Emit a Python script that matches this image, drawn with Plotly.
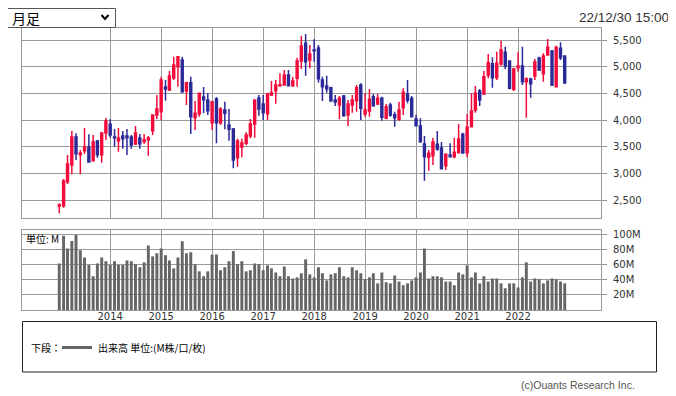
import pandas as pd
import plotly.graph_objects as go

# ---------------- data ----------------
months = pd.date_range("2013-01-01", periods=120, freq="MS")

open_ = [2387, 2394, 2844, 3156, 3681, 3350, 3425, 3494, 3238, 3606, 3350, 3756,
         3919, 3681, 3613, 3700, 3700, 3681, 3550, 3663, 3594, 3631, 3800, 4094,
         4156, 4619, 4563, 4788, 5000, 5125, 4544, 4700, 4044, 4119, 4431, 4375,
         3950, 4394, 3950, 4188, 3906, 3831, 3294, 3494, 3563, 3700, 3925, 4413,
         4300, 4119, 4469, 4550, 4644, 4656, 4844, 4644, 4781, 5106, 5438, 5125,
         5313, 5350, 4750, 4638, 4606, 4375, 4281, 4450, 4094, 4281, 4363, 4656,
         4113, 4169, 4438, 4300, 4406, 4031, 4281, 4100, 4013, 4231, 4488, 4406,
         4019, 3888, 3550, 3300, 3331, 3544, 3475, 3144, 3344, 3313, 3388, 3731,
         3388, 3875, 4188, 4544, 4488, 4844, 5056, 4794, 5050, 5269, 5106, 4575,
         4981, 5013, 4719, 4769, 4825, 5163, 4869, 5219, 5294, 4625, 5344, 5200]
high = [2437, 2894, 3344, 3794, 3750, 3438, 3850, 3731, 3719, 3625, 3775, 4038,
        4013, 3831, 3850, 3794, 3831, 3719, 3888, 3738, 3738, 3700, 4106, 4469,
        4813, 4750, 4919, 5188, 5188, 5188, 4719, 4813, 4356, 4513, 4619, 4500,
        4363, 4431, 4238, 4344, 4206, 3850, 3650, 3650, 3769, 4019, 4388, 4469,
        4469, 4513, 4731, 4750, 4875, 4938, 4938, 4813, 5169, 5581, 5613, 5406,
        5513, 5406, 4813, 4831, 4625, 4469, 4450, 4469, 4375, 4469, 4656, 4688,
        4500, 4581, 4488, 4488, 4438, 4300, 4325, 4156, 4344, 4594, 4750, 4450,
        4094, 4031, 3700, 3438, 3669, 3794, 3588, 3375, 3563, 3669, 3925, 3763,
        4113, 4500, 4638, 4581, 4919, 5238, 5175, 5281, 5481, 5375, 5120, 4981,
        5269, 5375, 4800, 4794, 5144, 5188, 5250, 5519, 5313, 5394, 5456, 5200]
low = [2250, 2356, 2800, 2981, 3250, 2981, 3363, 3200, 3225, 3294, 3200, 3625,
       3669, 3500, 3406, 3463, 3344, 3463, 3531, 3463, 3556, 3331, 3719, 4019,
       3994, 4363, 4544, 4750, 4625, 4513, 4281, 3738, 3813, 4063, 4125, 4094,
       3813, 3563, 3906, 3825, 3613, 3094, 3125, 3300, 3525, 3656, 3669, 4081,
       4000, 4000, 4450, 4306, 4625, 4644, 4638, 4625, 4625, 4956, 4831, 4969,
       5094, 4700, 4356, 4513, 4344, 4263, 4013, 4063, 3888, 4138, 4156, 4000,
       4063, 4063, 4250, 4281, 3988, 4013, 4063, 3875, 3988, 4094, 4313, 4050,
       3888, 3575, 2863, 3050, 3156, 3425, 3075, 3063, 3300, 3281, 3375, 3363,
       3300, 3875, 4138, 4263, 4469, 4781, 4606, 4750, 5019, 4956, 4575, 4544,
       4906, 4656, 4044, 4419, 4750, 4919, 4719, 5206, 4638, 4625, 5125, 4675]
close = [2406, 2856, 3175, 3681, 3369, 3381, 3494, 3213, 3588, 3350, 3756, 3981,
         3719, 3669, 3663, 3650, 3669, 3531, 3756, 3556, 3631, 3663, 4094, 4206,
         4750, 4581, 4825, 5031, 5188, 4531, 4700, 4063, 4125, 4500, 4381, 4175,
         4344, 3950, 4206, 4125, 3825, 3250, 3606, 3569, 3719, 3925, 4375, 4206,
         4138, 4488, 4513, 4656, 4663, 4844, 4644, 4731, 5106, 5388, 5094, 5238,
         5300, 4775, 4625, 4588, 4356, 4338, 4406, 4081, 4300, 4375, 4606, 4219,
         4188, 4388, 4269, 4406, 4050, 4250, 4094, 4044, 4188, 4519, 4369, 4063,
         3894, 3594, 3313, 3375, 3588, 3456, 3088, 3356, 3313, 3394, 3644, 3388,
         3863, 4169, 4500, 4375, 4813, 5075, 4794, 5063, 5313, 5013, 4594, 4956,
         5013, 4719, 4769, 4681, 5088, 4938, 5200, 5363, 4656, 5363, 5169, 4700]
volume_m = [62, 99, 82, 92, 100, 79.5, 70, 60, 45, 62, 70, 65,
            60, 65, 60, 60, 66, 65, 61, 57, 63.5, 86, 71.5, 75.5,
            82, 73, 66, 55.5, 70, 91.5, 75.5, 77, 61, 51.5, 45, 51.5,
            74, 74, 53, 57, 65, 78.5, 61, 65, 51.5, 53, 62, 61,
            53, 59.5, 55.5, 50, 45, 58, 45, 42, 43.5, 49, 67.5, 47.5,
            43.5, 57, 49, 39.5, 47.5, 49, 57, 45, 43.5, 57, 53, 49,
            41, 43.5, 49, 35.5, 50, 37, 35.5, 46, 38, 33, 35.5, 39.5,
            43.5, 50, 82, 42, 45, 45, 43.5, 38, 38, 33, 50, 47.5,
            59.5, 43.5, 50, 35.5, 45, 38, 42, 42, 35.5, 29, 35.5, 35.5,
            30, 43.5, 63.5, 38, 42, 41, 35.5, 39.5, 42, 41, 38, 35.5]

year_ticks = ["2014-01-01", "2015-01-01", "2016-01-01", "2017-01-01", "2018-01-01",
              "2019-01-01", "2020-01-01", "2021-01-01", "2022-01-01"]
year_labels = ["2014", "2015", "2016", "2017", "2018", "2019", "2020", "2021", "2022"]
price_ticks = [2500, 3000, 3500, 4000, 4500, 5000, 5500]
vol_ticks = [20, 40, 60, 80, 100]
vol_labels = ["20M", "40M", "60M", "80M", "100M"]

# ---------------- styling ----------------
RED = "#F20C3C"
BLUE = "#2A2A98"
GRID = "#9A9A9A"
VOLC = "#666666"
TXT = "#333333"
CJK = "Noto Sans CJK JP"

# page body has an 8px margin: figure is placed at (8, 8) in the window
OFF = 8
W, H = 676 - OFF, 396 - OFF
PL, PT, PW, PH = 22, 28, 579, 282          # plot area in window pixels
L, T = PL - OFF, PT - OFF
R, B = W - L - PW, H - T - PH


def px(x):
    return (x - PL) / PW


def py(y):
    return (PT + PH - y) / PH


fig = go.Figure()
fig.add_trace(go.Candlestick(
    x=months, open=open_, high=high, low=low, close=close,
    increasing=dict(line=dict(color=RED, width=1.5), fillcolor=RED),
    decreasing=dict(line=dict(color=BLUE, width=1.5), fillcolor=BLUE),
    whiskerwidth=0, xaxis="x", yaxis="y", showlegend=False, hoverinfo="skip"))
fig.add_trace(go.Bar(
    x=months, y=volume_m, marker=dict(color=VOLC, line=dict(width=0)),
    width=21 * 86400000, xaxis="x2", yaxis="y2", showlegend=False, hoverinfo="skip"))

xcommon = dict(type="date", range=["2012-04-09", "2023-08-18"],
               tickvals=year_ticks, ticktext=year_labels,
               showgrid=True, gridcolor=GRID, gridwidth=1,
               showline=True, mirror=True, linecolor=GRID, linewidth=1,
               ticks="", zeroline=False)
ycommon = dict(side="right", showgrid=True, gridcolor=GRID, gridwidth=1,
               showline=True, mirror=True, linecolor=GRID, linewidth=1,
               ticks="outside", ticklen=5, tickcolor=GRID, zeroline=False,
               tickfont=dict(family="DejaVu Sans", size=10, color=TXT),
               ticklabelstandoff=4, fixedrange=True)

fig.update_layout(
    width=W, height=H, margin=dict(l=L, r=R, t=T, b=B, pad=0),
    paper_bgcolor="white", plot_bgcolor="white",
    showlegend=False, boxgap=0.3,
    xaxis=dict(xcommon, domain=[0, 1], anchor="y", showticklabels=False,
               rangeslider=dict(visible=False)),
    xaxis2=dict(xcommon, domain=[0, 1], anchor="y2", matches="x", showticklabels=True,
                ticklabelstandoff=-3,
                tickfont=dict(family="DejaVu Sans", size=10, color=TXT)),
    yaxis=dict(ycommon, domain=[py(218), 1], range=[2162.5, 5725],
               tickvals=price_ticks, tickformat=","),
    yaxis2=dict(ycommon, domain=[0, py(229.7)], range=[0, 107],
                tickvals=vol_ticks, ticktext=vol_labels),
)

shapes = [
    # dropdown box
    dict(type="rect", xref="paper", yref="paper", x0=px(5.5), x1=px(115.5),
         y0=py(27.5), y1=py(8.5), line=dict(color="#555555", width=1), fillcolor="white"),
    # chevron
    dict(type="path", xref="paper", yref="paper",
         path=f"M {px(101.5)} {py(15)} L {px(105)} {py(19)} L {px(108.5)} {py(15)}",
         line=dict(color="black", width=2)),
    # legend box
    dict(type="rect", xref="paper", yref="paper", x0=px(22.5), x1=px(656.5),
         y0=py(372), y1=py(321.5), line=dict(color="#222222", width=1)),
    # legend line sample
    dict(type="line", xref="paper", yref="paper", x0=px(62), x1=px(92),
         y0=py(347.5), y1=py(347.5), line=dict(color=VOLC, width=3)),
]

annotations = [
    dict(text="月足", x=px(10), y=py(18), xanchor="left", yanchor="middle",
         font=dict(family=CJK, size=14, color="black")),
    dict(text="22/12/30 15:00", x=px(671), y=py(17), xanchor="right", yanchor="middle",
         font=dict(family="Liberation Sans", size=13.5, color=TXT)),
    dict(text="単位: M", x=px(24), y=py(238), xanchor="left", yanchor="middle",
         font=dict(family=CJK, size=10, color="black")),
    dict(text="下段：", x=px(29), y=py(347), xanchor="left", yanchor="middle",
         font=dict(family=CJK, size=10, color="black")),
    dict(text="出来高 単位:(M株/口/枚)", x=px(96), y=py(347), xanchor="left", yanchor="middle",
         font=dict(family=CJK, size=10, color="black")),
    dict(text="(c)Ouants Research Inc.", x=px(637), y=py(385), xanchor="right", yanchor="middle",
         font=dict(family="Liberation Sans", size=10.5, color="#555555")),
]
for a in annotations:
    a.update(xref="paper", yref="paper", showarrow=False)

fig.update_layout(shapes=shapes, annotations=annotations)

fig.write_html("out.html", config={"displayModeBar": False})
